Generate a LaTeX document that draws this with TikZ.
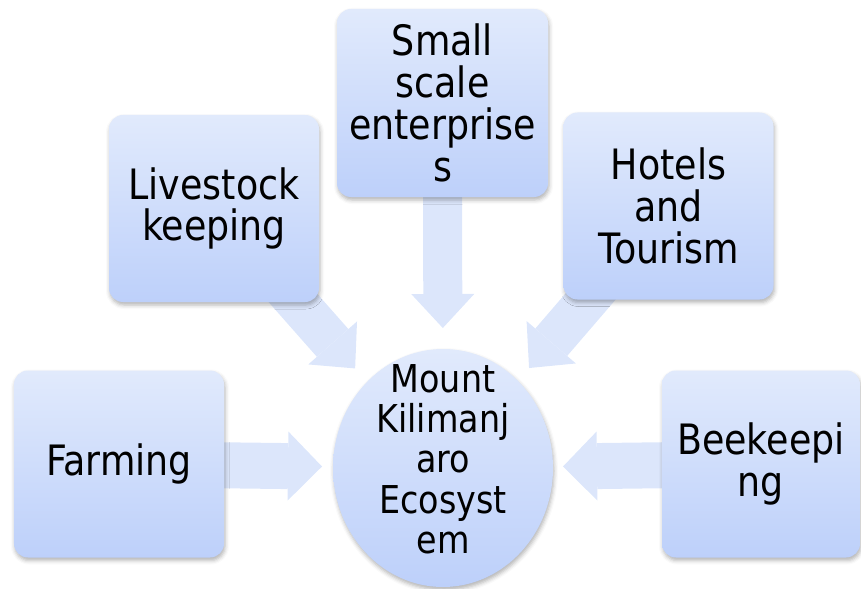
\documentclass[tikz,border=0pt]{standalone}
\usepackage{fontspec}
\setmainfont{DejaVu Sans}[FakeStretch=0.87]
\usetikzlibrary{shapes.geometric,arrows.meta,backgrounds,shadows.blur}

\definecolor{boxtop}{RGB}{225,234,252}
\definecolor{boxbottom}{RGB}{189,208,250}
\definecolor{spokefill}{RGB}{220,230,251}

\begin{document}
\begin{tikzpicture}[x=1bp,y=-1bp,
  every node/.style={inner sep=0pt, outer sep=0pt},
  softshadow/.style={blur shadow={shadow xshift=1bp, shadow yshift=-3bp, shadow blur radius=4bp, shadow opacity=30}},
  box/.style={rectangle, rounded corners=14bp, minimum width=210bp, minimum height=187bp,
    top color=boxtop, bottom color=boxbottom, align=center,
    font=\fontsize{42}{42}\selectfont, softshadow},
  hub/.style={ellipse, minimum width=220bp, minimum height=238bp,
    inner ysep=-40bp, text depth=18bp,
    top color=boxtop, bottom color=boxbottom, align=center,
    font=\fontsize{38.5}{40.5}\selectfont, softshadow},
  spoke/.style 2 args={draw=spokefill, line width=#1,
    -{Triangle[width=#2, length=34bp, line width=0pt]}}
]
\useasboundingbox (0,0) rectangle (861,589);

% outer activities
\node[box] (farm) at (119,464) {Farming};
\node[box] (stock) at (214,208.5) {Livestock\\keeping};
\node[box, minimum width=211bp, minimum height=188bp] (trade) at (442.5,103) {Small\\scale\\enterprise\\s};
\node[box] (hotel) at (668.5,206) {Hotels\\and\\Tourism};
\node[box, minimum width=198bp] (bees) at (761,464) {Beekeepi\\ng};

% centre
\node[hub] (mount) at (443,468) {Mount\\Kilimanj\\aro\\Ecosyst\\em};

% block arrows pointing inwards
\begin{scope}[on background layer]
\draw[spoke={46bp}{69bp}, shorten >=11bp] (farm.center) -- (mount);
\draw[spoke={42bp}{65bp}, shorten >=18bp] (stock.center) -- (mount);
\draw[spoke={39bp}{63bp}, shorten >=21bp] (trade.center) -- (mount);
\draw[spoke={42bp}{65bp}, shorten >=17bp] (hotel.center) -- (mount);
\draw[spoke={46bp}{69bp}, shorten >=10bp] (bees.center) -- (mount);
\end{scope}
\end{tikzpicture}
\end{document}
